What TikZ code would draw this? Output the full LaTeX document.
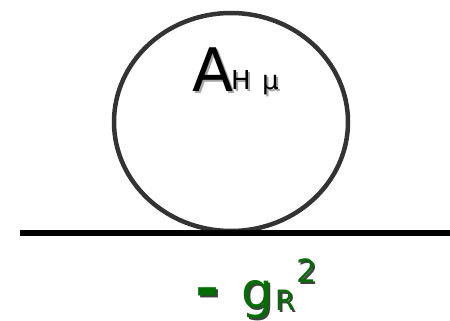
\documentclass[tikz,border=0pt]{standalone}
\usepackage{fontspec}
\setmainfont{DejaVu Sans}
\definecolor{darkgreen}{RGB}{0,110,0}
\begin{document}
\begin{tikzpicture}[x=1pt,y=-1pt]
    \useasboundingbox (0,0) rectangle (450,321);
    % loop and line
    \draw[line width=4.5pt, black!80] (231,122) ellipse (117 and 109);
    \draw[line width=6pt] (20,233) coordinate (l) -- (450,233) coordinate (r);
    % labels, with shadow
    \foreach \dx/\c in {2/black!35, 0/black}
    {
        \node[anchor=base west, inner sep=0pt, text=\c, font=\fontsize{60}{60}\selectfont] (A) at (192+\dx,92+\dx) {A};
        \node[anchor=base west, inner sep=0pt, text=\c, font=\fontsize{26}{26}\selectfont] (H) at (231+\dx,90+\dx) {H};
        \node[anchor=base west, inner sep=0pt, text=\c, font=\fontsize{26}{26}\selectfont] (mu) at (262+\dx,90+\dx) {μ};
    }
    \foreach \dx/\c in {2/black!75, 0/darkgreen}
    {
        \node[anchor=base west, inner sep=0pt, text=\c, font=\fontsize{58}{58}\selectfont\bfseries] (minus) at (195+\dx,308+\dx) {-};
        \node[anchor=base west, inner sep=0pt, text=\c, font=\fontsize{50}{50}\selectfont] (g) at (241+\dx,308+\dx) {g};
        \node[anchor=base west, inner sep=0pt, text=\c, font=\fontsize{28}{28}\selectfont] (R) at (275+\dx,310+\dx) {R};
        \node[anchor=base west, inner sep=0pt, text=\c, font=\fontsize{32}{32}\selectfont] (sq) at (296+\dx,282+\dx) {2};
    }
\end{tikzpicture}
\end{document}
